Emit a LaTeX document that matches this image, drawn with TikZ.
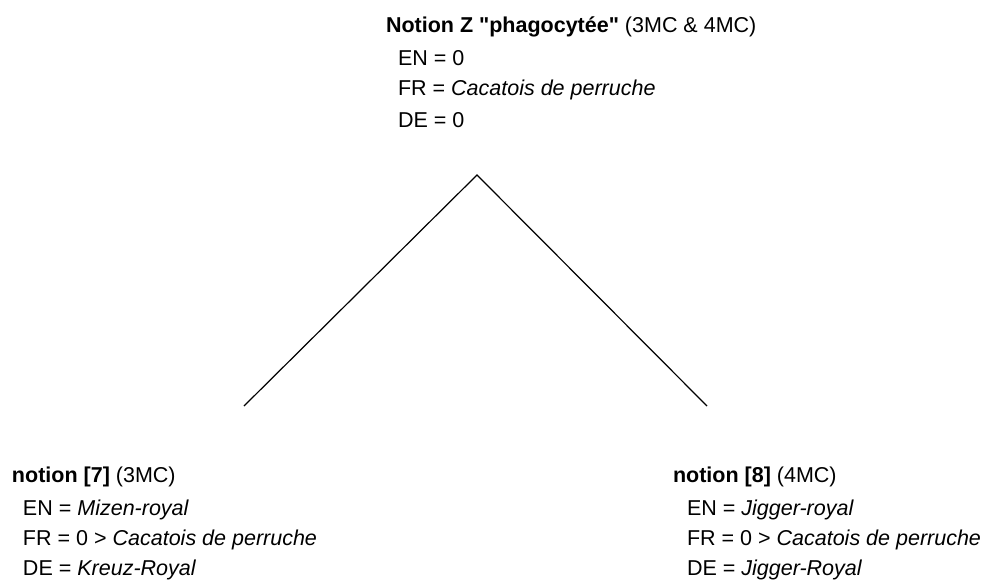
\documentclass[tikz,border=0pt]{standalone}
\usepackage{fontspec}
\newfontfamily\plainsans{Liberation Sans}
\begin{document}
\begin{tikzpicture}[x=1pt,y=-1pt,
  txt/.style={anchor=base west, inner sep=0pt, outer sep=0pt, font=\plainsans\fontsize{21.5}{26}\selectfont},
  branch/.style={draw=black, line width=1.2pt}]
\useasboundingbox (0,0) rectangle (986,579);
% top block
\node[txt] (ztitle) at (386,32) {\textbf{Notion Z "phagocytée"} (3MC \& 4MC)};
\node[txt] (zen) at (398,65) {EN = 0};
\node[txt] (zfr) at (398,95) {FR = \textit{Cacatois de perruche}};
\node[txt] (zde) at (398,127) {DE = 0};
% left block
\node[txt] (atitle) at (12,482) {\textbf{notion [7]} (3MC)};
\node[txt] (aen) at (23,515) {EN = \textit{Mizen-royal}};
\node[txt] (afr) at (23,545) {FR = 0 > \textit{Cacatois de perruche}};
\node[txt] (ade) at (23,575) {DE = \textit{Kreuz-Royal}};
% right block
\node[txt] (btitle) at (673,482) {\textbf{notion [8]} (4MC)};
\node[txt] (ben) at (687,515) {EN = \textit{Jigger-royal}};
\node[txt] (bfr) at (687,545) {FR = 0 > \textit{Cacatois de perruche}};
\node[txt] (bde) at (687,575) {DE = \textit{Jigger-Royal}};
% branches
\coordinate (apex) at (477,175);
\coordinate (lend) at (244,406);
\coordinate (rend) at (707,406);
\draw[branch] (lend) -- (apex) -- (rend);
\end{tikzpicture}
\end{document}
